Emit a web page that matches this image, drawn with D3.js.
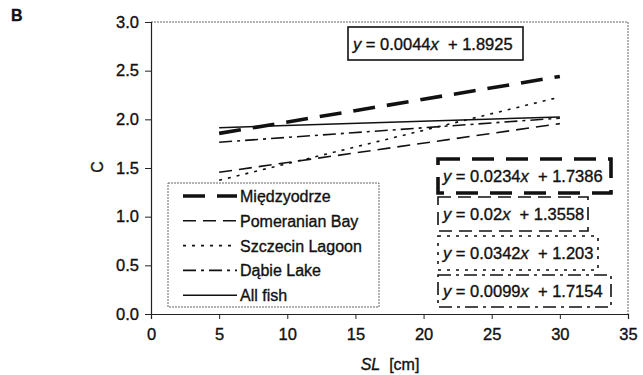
<!DOCTYPE html>
<html>
<head>
<meta charset="utf-8">
<script src="https://cdn.jsdelivr.net/npm/d3@7"></script>
<style>
  html, body { margin: 0; padding: 0; background: #fff; }
  svg text { font-family: "Liberation Sans", Arial, sans-serif; fill: #111; stroke: #111; stroke-width: 0.35px; }
</style>
</head>
<body>
<svg id="chart" width="643" height="375"></svg>
<script>
// Regression lines of C against standard length, by sampling area
const seriesNames = ["Międzyodrze", "Pomeranian Bay", "Szczecin Lagoon", "Dąbie Lake", "All fish"];
const slopes      = [0.0234, 0.02, 0.0342, 0.0099, 0.0044];
const intercepts  = [1.7386, 1.3558, 1.203, 1.7154, 1.8925];
const slFrom = 5;
const slTo = 30;

const xTickValues = [0, 5, 10, 15, 20, 25, 30, 35];
const yTickValues = [0, 0.5, 1.0, 1.5, 2.0, 2.5, 3.0];

// Line appearance per series
const lineStyles = [
  { width: 3.6, dash: "22,12" },
  { width: 1.6, dash: "13,7" },
  { width: 1.6, dash: "3,6" },
  { width: 1.6, dash: "13,5,3,5" },
  { width: 1.5, dash: null }
];

const svg = d3.select("#chart");
const plot = { left: 151, right: 628, top: 22, bottom: 314 };

const x = d3.scaleLinear().domain([0, 35]).range([plot.left, plot.right]);
const y = d3.scaleLinear().domain([0, 3]).range([plot.bottom, plot.top]);

// Plot frame (top and right edges)
svg.append("path")
  .attr("d", `M${plot.left},${plot.top}H${plot.right}V${plot.bottom}`)
  .attr("fill", "none")
  .attr("stroke", "#666")
  .attr("stroke-width", 1)
  .attr("stroke-dasharray", "2,1");

// Axes
const yAxis = d3.axisLeft(y).tickValues(yTickValues).tickFormat(d3.format(".1f")).tickSize(6).tickPadding(6);
const xAxis = d3.axisBottom(x).tickValues(xTickValues).tickFormat(d3.format("d")).tickSize(5).tickPadding(9);

const gy = svg.append("g").attr("transform", `translate(${plot.left},0)`).call(yAxis);
const gx = svg.append("g").attr("transform", `translate(0,${plot.bottom})`).call(xAxis);
[gx, gy].forEach(g => {
  g.select(".domain").attr("stroke", "#222").attr("stroke-width", 1.2);
  g.selectAll(".tick line").attr("stroke", "#222").attr("stroke-width", 1);
  g.selectAll(".tick text").style("font-family", "Liberation Sans, Arial, sans-serif")
    .style("font-size", "16.5px").attr("fill", "#111");
});

// Axis titles
svg.append("text")
  .attr("transform", "translate(103,167) rotate(-90)")
  .attr("text-anchor", "middle")
  .style("font-size", "16px")
  .text("C");

const xt = svg.append("text")
  .attr("x", 390).attr("y", 370)
  .attr("text-anchor", "middle")
  .style("font-size", "16px")
  .style("white-space", "pre");
xt.append("tspan").style("font-style", "italic").text("SL");
xt.append("tspan").text("  [cm]");

// Panel letter
svg.append("text")
  .attr("x", 11).attr("y", 21)
  .style("font-size", "16px").style("font-weight", "bold")
  .text("B");

// Regression lines
const line = d3.line().x(d => x(d[0])).y(d => y(d[1]));
const lineData = seriesNames.map((name, i) => ({
  name,
  style: lineStyles[i],
  pts: [[slFrom, slopes[i] * slFrom + intercepts[i]], [slTo, slopes[i] * slTo + intercepts[i]]]
}));

svg.append("g").selectAll("path")
  .data(lineData.slice().reverse())
  .join("path")
  .attr("d", d => line(d.pts))
  .attr("fill", "none")
  .attr("stroke", "#111")
  .attr("stroke-width", d => d.style.width)
  .attr("stroke-dasharray", d => d.style.dash);

// Legend
const legend = svg.append("g");
legend.append("rect")
  .attr("x", 168).attr("y", 183).attr("width", 211).attr("height", 124)
  .attr("fill", "#fff")
  .attr("stroke", "#666").attr("stroke-width", 1).attr("stroke-dasharray", "2,1");
const rowY = i => 196 + i * 24.8;
legend.selectAll("line")
  .data(lineData)
  .join("line")
  .attr("x1", 183).attr("x2", 237)
  .attr("y1", (d, i) => rowY(i)).attr("y2", (d, i) => rowY(i))
  .attr("stroke", "#111")
  .attr("stroke-width", d => d.style.width)
  .attr("stroke-dasharray", d => d.style.dash);
legend.selectAll("text")
  .data(lineData)
  .join("text")
  .attr("x", 240).attr("y", (d, i) => rowY(i) + 6)
  .style("font-size", "16px")
  .text(d => d.name);

// Equation labels, each framed in its series' line style
const fmt = v => String(v);
const eqBoxes = [
  { i: 4, x: 348, y: 27,  w: 175, h: 33 },
  { i: 0, x: 438, y: 159, w: 173, h: 34 },
  { i: 1, x: 438, y: 197, w: 150, h: 34 },
  { i: 2, x: 438, y: 236, w: 160, h: 34 },
  { i: 3, x: 438, y: 275, w: 173, h: 32 }
];
const eq = svg.append("g");
eqBoxes.forEach(b => {
  const st = lineStyles[b.i];
  eq.append("rect")
    .attr("x", b.x).attr("y", b.y).attr("width", b.w).attr("height", b.h)
    .attr("fill", "#fff")
    .attr("stroke", "#111")
    .attr("stroke-width", b.i === 4 ? 1.6 : st.width)
    .attr("stroke-dasharray", st.dash);
  const t = eq.append("text")
    .attr("x", b.x + 5).attr("y", b.y + b.h / 2 + 6)
    .style("font-size", "16.5px")
    .style("white-space", "pre");
  t.append("tspan").style("font-style", "italic").text("y");
  t.append("tspan").text(" = " + fmt(slopes[b.i]));
  t.append("tspan").style("font-style", "italic").text("x");
  t.append("tspan").text("  + " + fmt(intercepts[b.i]));
});
</script>
</body>
</html>
